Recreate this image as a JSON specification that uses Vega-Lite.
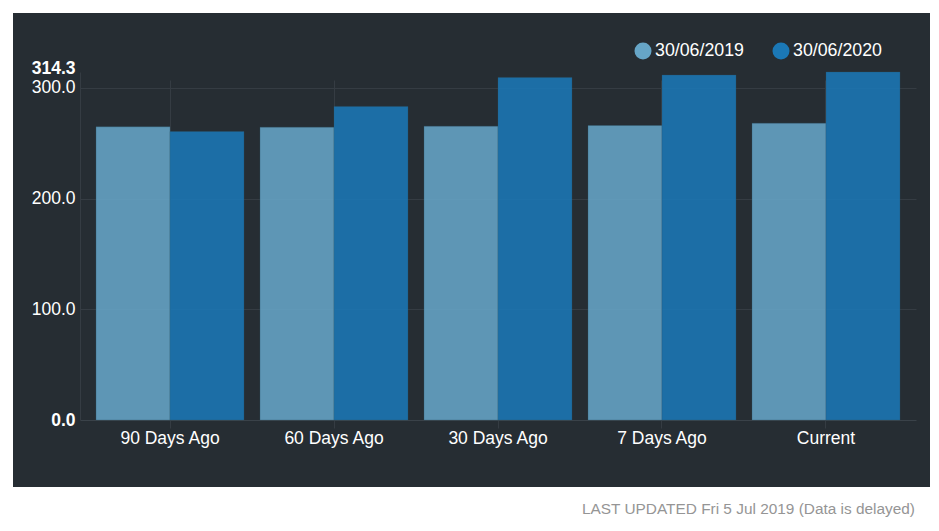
{
  "$schema": "https://vega.github.io/schema/vega-lite/v6.json",
  "autosize": {"type": "none"},
  "width": 917,
  "height": 474,
  "padding": {"left": 13, "top": 13, "right": 9, "bottom": 44},
  "background": "#ffffff",
  "title": {
    "text": "LAST UPDATED  Fri 5 Jul 2019 (Data is delayed)",
    "orient": "bottom",
    "anchor": "end",
    "dx": -15,
    "offset": 15,
    "font": "Liberation Sans",
    "fontSize": 15.4,
    "fontWeight": "normal",
    "color": "#959595"
  },
  "data": {
    "values": [
      {"period": "90 Days Ago", "series": "30/06/2019", "value": 264.8},
      {"period": "90 Days Ago", "series": "30/06/2020", "value": 260.6},
      {"period": "60 Days Ago", "series": "30/06/2019", "value": 264.5},
      {"period": "60 Days Ago", "series": "30/06/2020", "value": 283.2},
      {"period": "30 Days Ago", "series": "30/06/2019", "value": 265.4},
      {"period": "30 Days Ago", "series": "30/06/2020", "value": 309.4},
      {"period": "7 Days Ago", "series": "30/06/2019", "value": 266.0},
      {"period": "7 Days Ago", "series": "30/06/2020", "value": 311.5},
      {"period": "Current", "series": "30/06/2019", "value": 268.1},
      {"period": "Current", "series": "30/06/2020", "value": 314.3}
    ]
  },
  "mark": {"type": "bar", "fillOpacity": 0.88, "stroke": "#2a5670", "strokeWidth": 0.6, "strokeOpacity": 0.5},
  "encoding": {
    "x": {
      "field": "period",
      "type": "nominal",
      "sort": ["90 Days Ago", "60 Days Ago", "30 Days Ago", "7 Days Ago", "Current"],
      "scale": {"range": [67, 903], "paddingInner": 0.0976, "paddingOuter": 0.0976},
      "axis": {
        "title": null,
        "orient": "bottom",
        "offset": -67,
        "labelAngle": 0,
        "labelFont": "Liberation Sans",
        "labelFontSize": 17.5,
        "labelColor": "#ffffff",
        "labelPadding": 9,
        "ticks": false,
        "domain": true,
        "domainColor": "#3a4249",
        "domainWidth": 1,
        "grid": true,
        "gridColor": "#353c43",
        "gridWidth": 1
      }
    },
    "xOffset": {
      "field": "series",
      "type": "nominal",
      "scale": {"paddingInner": 0, "paddingOuter": 0}
    },
    "y": {
      "field": "value",
      "type": "quantitative",
      "scale": {"domain": [0, 314.3], "range": [407, 59], "nice": false, "zero": true},
      "axis": {
        "title": null,
        "orient": "left",
        "offset": -67,
        "values": [0, 100, 200, 300, 314.3],
        "format": ".1f",
        "labelFont": "Liberation Sans",
        "labelFontSize": 17.5,
        "labelColor": "#ffffff",
        "labelPadding": 5,
        "labelFontWeight": {"condition": {"test": "datum.value == 0 || datum.value > 310", "value": "bold"}, "value": "normal"},
        "labelBaseline": "middle",
        "labelOffset": {"condition": {"test": "datum.value > 310", "value": -4}, "value": 0},
        "labelOverlap": false,
        "labelBound": false,
        "ticks": false,
        "domain": true,
        "domainColor": "#353c43",
        "grid": true,
        "gridColor": "#353c43",
        "gridOpacity": {"condition": {"test": "datum.value == 0 || datum.value > 310", "value": 0}, "value": 1}
      }
    },
    "color": {
      "field": "series",
      "type": "nominal",
      "scale": {"domain": ["30/06/2019", "30/06/2020"], "range": ["#66a5c7", "#1b78b6"]},
      "legend": {
        "title": null,
        "orient": "none",
        "legendX": 621,
        "legendY": 29,
        "direction": "horizontal",
        "symbolType": "circle",
        "symbolSize": 290,
        "symbolStrokeWidth": 0,
        "symbolOpacity": 1,
        "labelFont": "Liberation Sans",
        "labelFontSize": 17.8,
        "labelColor": "#ffffff",
        "labelOffset": 3,
        "columnPadding": 28,
        "encode": {
          "symbols": {
            "enter": {
              "fill": [
                {"test": "datum.value === '30/06/2019'", "value": "#6cb6e0"},
                {"value": "#0a88d0"}
              ],
              "fillOpacity": {"value": 1}
            },
            "update": {
              "fill": [
                {"test": "datum.value === '30/06/2019'", "value": "#6cb6e0"},
                {"value": "#0a88d0"}
              ],
              "fillOpacity": {"value": 1},
              "opacity": {"value": 1}
            }
          }
        }
      }
    }
  },
  "config": {
    "view": {"fill": "#262d33", "stroke": null}
  }
}
